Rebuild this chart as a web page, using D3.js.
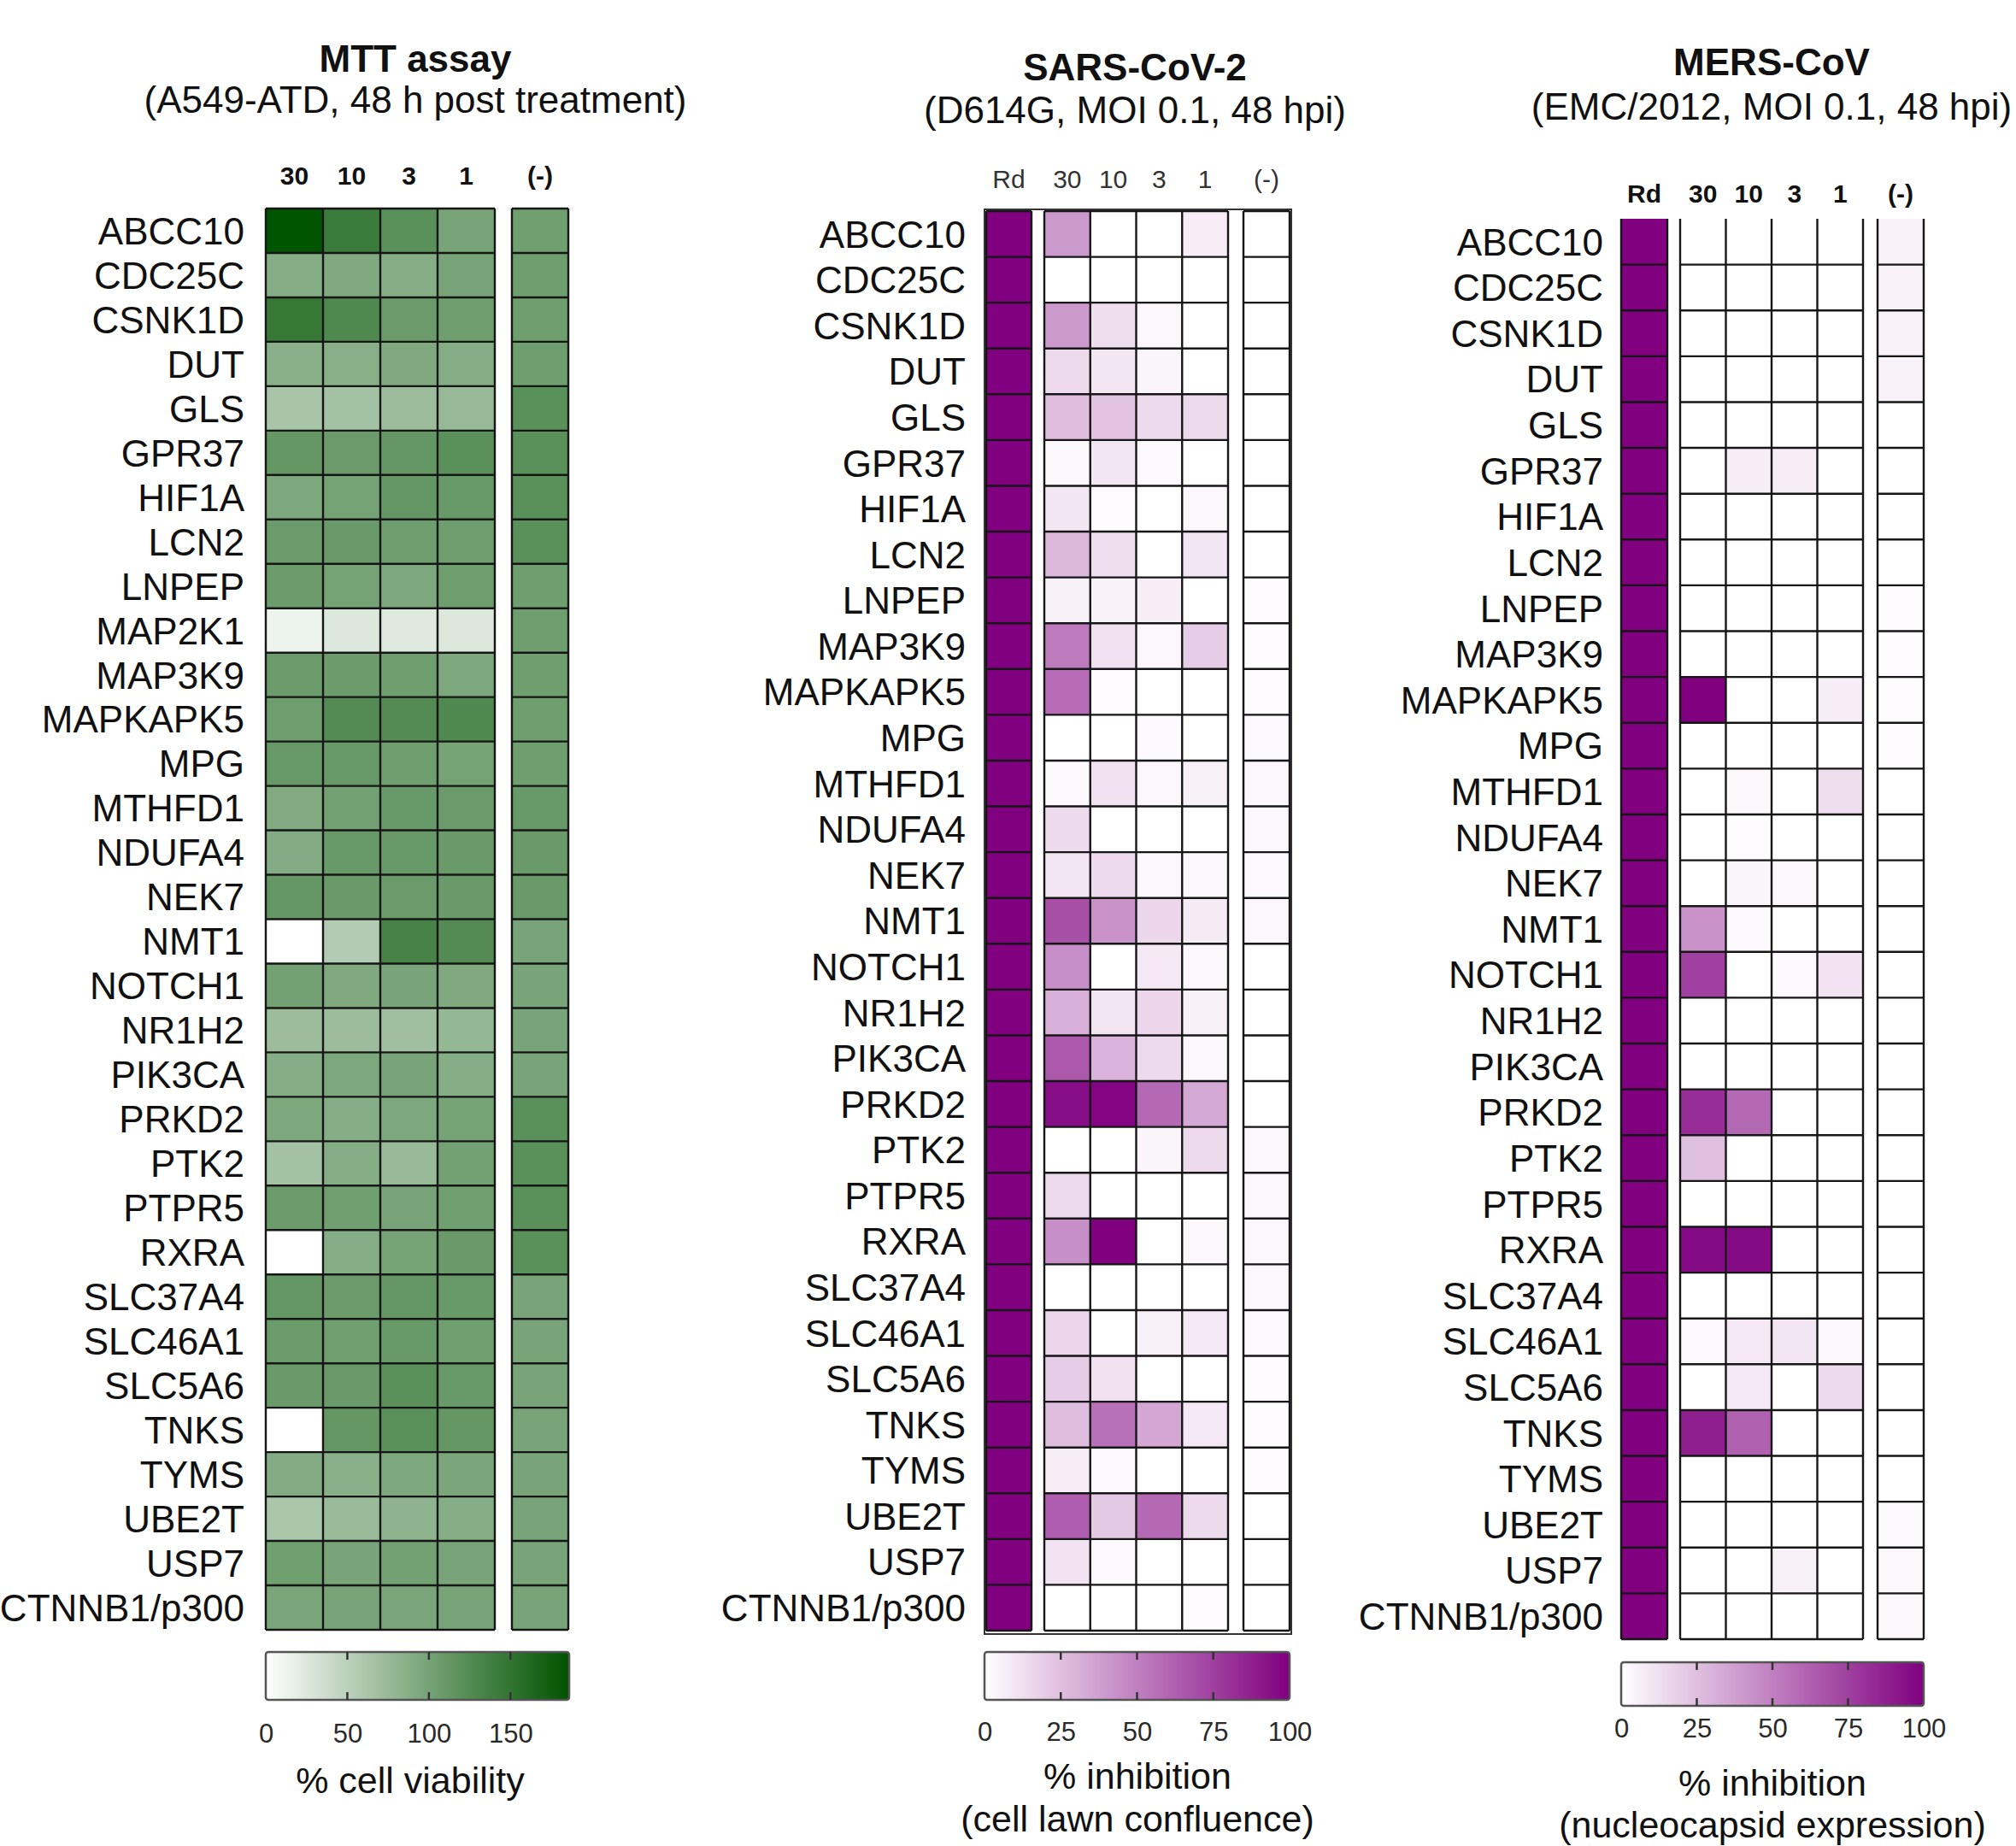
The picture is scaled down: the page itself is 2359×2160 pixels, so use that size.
<!DOCTYPE html>
<html>
<head>
<meta charset="utf-8">
<script src="https://cdn.jsdelivr.net/npm/d3@7"></script>
<style>
  body { margin: 0; background: #fff; }
  svg text { font-family: "Liberation Sans", Arial, Helvetica, sans-serif; fill: #111; }
</style>
</head>
<body>
<svg id="chart" width="2359" height="2160"></svg>
<script>
// ---------------- data ----------------
const mttGenes = ["ABCC10","CDC25C","CSNK1D","DUT","GLS","GPR37","HIF1A","LCN2","LNPEP","MAP2K1",
  "MAP3K9","MAPKAPK5","MPG","MTHFD1","NDUFA4","NEK7","NMT1","NOTCH1","NR1H2","PIK3CA","PRKD2",
  "PTK2","PTPR5","RXRA","SLC37A4","SLC46A1","SLC5A6","TNKS","TYMS","UBE2T","USP7","CTNNB1/p300"];
const virusGenes = ["ABCC10","CDC25C","CSNK1D","DUT","GLS","GPR37","HIF1A","LCN2","LNPEP",
  "MAP3K9","MAPKAPK5","MPG","MTHFD1","NDUFA4","NEK7","NMT1","NOTCH1","NR1H2","PIK3CA","PRKD2",
  "PTK2","PTPR5","RXRA","SLC37A4","SLC46A1","SLC5A6","TNKS","TYMS","UBE2T","USP7","CTNNB1/p300"];

const doseLabels = ["30", "10", "3", "1"];
const controlLabel = "(-)";
const remdesivirLabel = "Rd";

// % cell viability (MTT)
const mtt30  = [185,88,146,85,63,113,95,108,108,13,108,106,111,92,90,113,0,102,72,88,95,67,108,0,113,108,109,0,90,62,104,97];
const mtt10  = [143,93,128,86,67,108,100,109,100,25,107,125,110,102,110,109,56,93,72,95,88,88,104,88,108,104,109,113,85,74,98,98];
const mtt3   = [120,88,108,93,72,113,112,106,95,23,105,125,105,110,110,108,134,98,69,98,95,75,98,100,113,110,120,120,95,82,102,97];
const mtt1   = [98,98,105,89,76,120,110,106,106,25,95,128,100,108,109,109,125,93,78,88,100,102,104,109,110,104,110,113,96,88,98,98];
const mttNeg = [104,105,105,105,120,120,120,120,105,105,105,105,105,110,109,109,98,98,98,98,120,120,120,120,98,98,98,98,98,98,98,98];

// % inhibition, SARS-CoV-2 (cell lawn confluence)
const sarsRd  = [100,100,100,100,100,100,100,100,100,100,100,100,100,100,100,100,100,100,100,100,100,100,100,100,100,100,100,100,100,100,100];
const sars30  = [40,0,40,15,26,3,10,28,6,52,58,0,2,14,10,69,44,31,65,95,0,15,44,0,16,20,26,7,63,11,0];
const sars10  = [0,0,13,10,23,10,1,13,5,12,1,0,12,0,14,43,0,10,30,98,0,0,100,0,0,12,56,2,21,2,0];
const sars3   = [0,0,3,4,15,2,0,0,7,3,0,2,3,0,3,16,9,16,15,59,4,0,0,0,6,0,35,0,59,0,0];
const sars1   = [7,0,0,0,14,0,3,10,0,20,0,0,6,0,3,8,3,6,3,34,14,0,3,0,9,0,9,0,14,0,1];
const sarsNeg = [0,0,0,0,0,0,0,0,1,1,1,2,3,3,2,3,0,0,0,0,3,3,3,3,2,1,1,1,0,0,0];

// % inhibition, MERS-CoV (nucleocapsid expression)
const mersRd  = [100,100,100,100,100,100,100,100,100,100,100,100,100,100,100,100,100,100,100,100,100,100,100,100,100,100,100,100,100,100,100];
const mers30  = [0,0,0,0,0,0,0,0,0,0,100,0,0,0,0,43,75,0,0,82,25,0,96,0,2,0,88,0,0,0,0];
const mers10  = [0,0,0,0,0,7,0,0,0,0,0,0,3,1,4,2,0,0,0,59,0,0,96,0,9,9,62,0,0,0,0];
const mers3   = [0,0,0,0,0,7,0,0,0,0,0,0,0,0,3,0,2,0,0,0,0,0,0,0,10,0,0,0,0,6,0];
const mers1   = [0,0,0,0,0,0,0,0,0,0,7,0,13,0,0,0,11,0,0,0,0,0,0,0,3,14,0,0,0,0,0];
const mersNeg = [5,5,5,5,0,0,0,0,1,1,1,1,0,0,0,0,0,0,0,0,0,0,0,0,0,0,0,0,2,3,3];

const viabilityTicks = [0, 50, 100, 150];
const inhibitionTicks = [0, 25, 50, 75, 100];

// ---------------- colour scales ----------------
const viabilityMax = 186;
const greenScale = d3.scaleLinear().domain([0, viabilityMax])
  .range(["#ffffff", "#005300"]).interpolate(d3.interpolateRgb).clamp(true);
const purpleScale = d3.scaleLinear().domain([0, 100])
  .range(["#ffffff", "#800080"]).interpolate(d3.interpolateRgb).clamp(true);

const svg = d3.select("#chart");
const defs = svg.append("defs");
const LINE = "#161616";

// One block of heatmap columns (e.g. the dose series, the Rd column, the control column)
function drawBlock(g, genes, labels, series, x0, x1, y, color, opts) {
  const x = d3.scaleBand().domain(labels).range([x0, x1]);
  const cells = [];
  genes.forEach((gene, i) => labels.forEach((lab, j) => cells.push({ gene, lab, v: series[j][i] })));
  g.append("g").selectAll("rect").data(cells).join("rect")
    .attr("x", d => x(d.lab)).attr("y", d => y(d.gene))
    .attr("width", x.bandwidth()).attr("height", y.bandwidth())
    .attr("fill", d => color(d.v));

  const [yTop, yBot] = y.range();
  const lines = g.append("g").attr("stroke", LINE).attr("stroke-width", 2.4).attr("fill", "none");
  const xs = labels.map(l => x(l)).concat([x1]);
  lines.selectAll(".v").data(xs).join("line").attr("class", "v")
    .attr("x1", d => d).attr("x2", d => d).attr("y1", yTop).attr("y2", yBot);
  const ys = genes.map(gn => y(gn)).concat([yBot]).filter((d, i) => opts.topLine || i > 0);
  lines.selectAll(".h").data(ys).join("line").attr("class", "h")
    .attr("x1", x0).attr("x2", x1).attr("y1", d => d).attr("y2", d => d);
  return x;
}

function drawColorbar(id, color, domainMax, ticks, cb) {
  const grad = defs.append("linearGradient").attr("id", id).attr("x1", "0%").attr("x2", "100%");
  d3.range(0, 1.0001, 0.05).forEach(t => {
    grad.append("stop").attr("offset", (t * 100) + "%").attr("stop-color", color(t * domainMax));
  });
  const s = d3.scaleLinear().domain([0, domainMax]).range([cb.x0, cb.x1]);
  const g = svg.append("g");
  g.append("rect").attr("x", cb.x0).attr("y", cb.y0)
    .attr("width", cb.x1 - cb.x0).attr("height", cb.y1 - cb.y0)
    .attr("rx", 3).attr("fill", `url(#${id})`).attr("stroke", "#555").attr("stroke-width", 2.5);
  const inner = ticks.filter(t => t > 0 && t < domainMax);
  g.selectAll(".tt").data(inner).join("line").attr("class", "tt")
    .attr("x1", d => s(d)).attr("x2", d => s(d)).attr("y1", cb.y0).attr("y2", cb.y0 + 9)
    .attr("stroke", "#333").attr("stroke-width", 2.5);
  g.selectAll(".tb").data(inner).join("line").attr("class", "tb")
    .attr("x1", d => s(d)).attr("x2", d => s(d)).attr("y1", cb.y1 - 9).attr("y2", cb.y1)
    .attr("stroke", "#333").attr("stroke-width", 2.5);

  const axis = d3.axisBottom(s).tickValues(ticks).tickSize(0).tickPadding(cb.pad).tickFormat(d3.format("d"));
  const ax = g.append("g").attr("transform", `translate(0,${cb.y1})`).call(axis);
  ax.select(".domain").remove();
  ax.selectAll("text").attr("font-size", 31).style("fill", "#2a2a2a")
    .attr("font-family", "'Liberation Sans', Arial, sans-serif");

  cb.lines.forEach((txt, i) => {
    g.append("text").attr("x", cb.labelX).attr("y", cb.labelY[i])
      .attr("text-anchor", "middle").attr("font-size", 43).text(txt);
  });
}

function drawTitles(cx, title, ty, subtitle, sy) {
  svg.append("text").attr("x", cx).attr("y", ty).attr("text-anchor", "middle")
    .attr("font-size", 44).attr("font-weight", "bold").text(title);
  svg.append("text").attr("x", cx).attr("y", sy).attr("text-anchor", "middle")
    .attr("font-size", 44).text(subtitle);
}

function drawHeaders(items, yBase, bold) {
  svg.append("g").selectAll("text").data(items).join("text")
    .attr("x", d => d.x).attr("y", yBase).attr("text-anchor", "middle")
    .attr("font-size", 30).attr("font-weight", bold ? "bold" : "normal")
    .style("fill", bold ? "#111" : "#333")
    .text(d => d.t);
}

function drawRowLabels(genes, y, xRight) {
  svg.append("g").selectAll("text").data(genes).join("text")
    .attr("x", xRight).attr("y", d => y(d) + y.bandwidth() / 2).attr("dy", "0.36em")
    .attr("text-anchor", "end").attr("font-size", 44).text(d => d);
}

// ---------------- MTT panel ----------------
{
  const y = d3.scaleBand().domain(mttGenes).range([244, 1907]);
  const g = svg.append("g");
  const xd = drawBlock(g, mttGenes, doseLabels, [mtt30, mtt10, mtt3, mtt1], 311, 579, y, greenScale, { topLine: true });
  const xn = drawBlock(g, mttGenes, [controlLabel], [mttNeg], 599, 665, y, greenScale, { topLine: true });
  drawRowLabels(mttGenes, y, 286);
  drawTitles(486, "MTT assay", 84, "(A549-ATD, 48 h post treatment)", 132);
  const hdr = doseLabels.map(t => ({ t, x: xd(t) + xd.bandwidth() / 2 }))
    .concat([{ t: controlLabel, x: xn(controlLabel) + xn.bandwidth() / 2 }]);
  drawHeaders(hdr, 216, true);
  drawColorbar("gradGreen", greenScale, viabilityMax, viabilityTicks, {
    x0: 311, x1: 666, y0: 1933, y1: 1989, pad: 28,
    labelX: 480, labelY: [2098], lines: ["% cell viability"]
  });
}

// ---------------- SARS-CoV-2 panel ----------------
{
  const y = d3.scaleBand().domain(virusGenes).range([247, 1908]);
  const g = svg.append("g");
  const xr = drawBlock(g, virusGenes, [remdesivirLabel], [sarsRd], 1154, 1207, y, purpleScale, { topLine: true });
  const xd = drawBlock(g, virusGenes, doseLabels, [sars30, sars10, sars3, sars1], 1222, 1437, y, purpleScale, { topLine: true });
  const xn = drawBlock(g, virusGenes, [controlLabel], [sarsNeg], 1455, 1509, y, purpleScale, { topLine: true });
  // frame around the whole block
  g.append("rect").attr("x", 1152).attr("y", 245).attr("width", 1511 - 1152).attr("height", 1912 - 245)
    .attr("fill", "none").attr("stroke", "#333").attr("stroke-width", 2);
  drawRowLabels(virusGenes, y, 1130);
  drawTitles(1328, "SARS-CoV-2", 94, "(D614G, MOI 0.1, 48 hpi)", 144);
  const hdr = [{ t: remdesivirLabel, x: xr(remdesivirLabel) + xr.bandwidth() / 2 }]
    .concat(doseLabels.map(t => ({ t, x: xd(t) + xd.bandwidth() / 2 })))
    .concat([{ t: controlLabel, x: xn(controlLabel) + xn.bandwidth() / 2 }]);
  drawHeaders(hdr, 220, false);
  drawColorbar("gradPurpleA", purpleScale, 100, inhibitionTicks, {
    x0: 1152, x1: 1509, y0: 1933, y1: 1989, pad: 26,
    labelX: 1331, labelY: [2093, 2143], lines: ["% inhibition", "(cell lawn confluence)"]
  });
}

// ---------------- MERS-CoV panel ----------------
{
  const y = d3.scaleBand().domain(virusGenes).range([256, 1918]);
  const g = svg.append("g");
  const xr = drawBlock(g, virusGenes, [remdesivirLabel], [mersRd], 1897, 1951, y, purpleScale, { topLine: false });
  const xd = drawBlock(g, virusGenes, doseLabels, [mers30, mers10, mers3, mers1], 1966, 2180, y, purpleScale, { topLine: false });
  const xn = drawBlock(g, virusGenes, [controlLabel], [mersNeg], 2197, 2251, y, purpleScale, { topLine: false });
  drawRowLabels(virusGenes, y, 1876);
  drawTitles(2073, "MERS-CoV", 88, "(EMC/2012, MOI 0.1, 48 hpi)", 140);
  const hdr = [{ t: remdesivirLabel, x: xr(remdesivirLabel) + xr.bandwidth() / 2 }]
    .concat(doseLabels.map(t => ({ t, x: xd(t) + xd.bandwidth() / 2 })))
    .concat([{ t: controlLabel, x: xn(controlLabel) + xn.bandwidth() / 2 }]);
  drawHeaders(hdr, 237, true);
  drawColorbar("gradPurpleB", purpleScale, 100, inhibitionTicks, {
    x0: 1897, x1: 2251, y0: 1945, y1: 1996, pad: 15,
    labelX: 2074, labelY: [2101, 2150], lines: ["% inhibition", "(nucleocapsid expression)"]
  });
}
</script>
</body>
</html>
